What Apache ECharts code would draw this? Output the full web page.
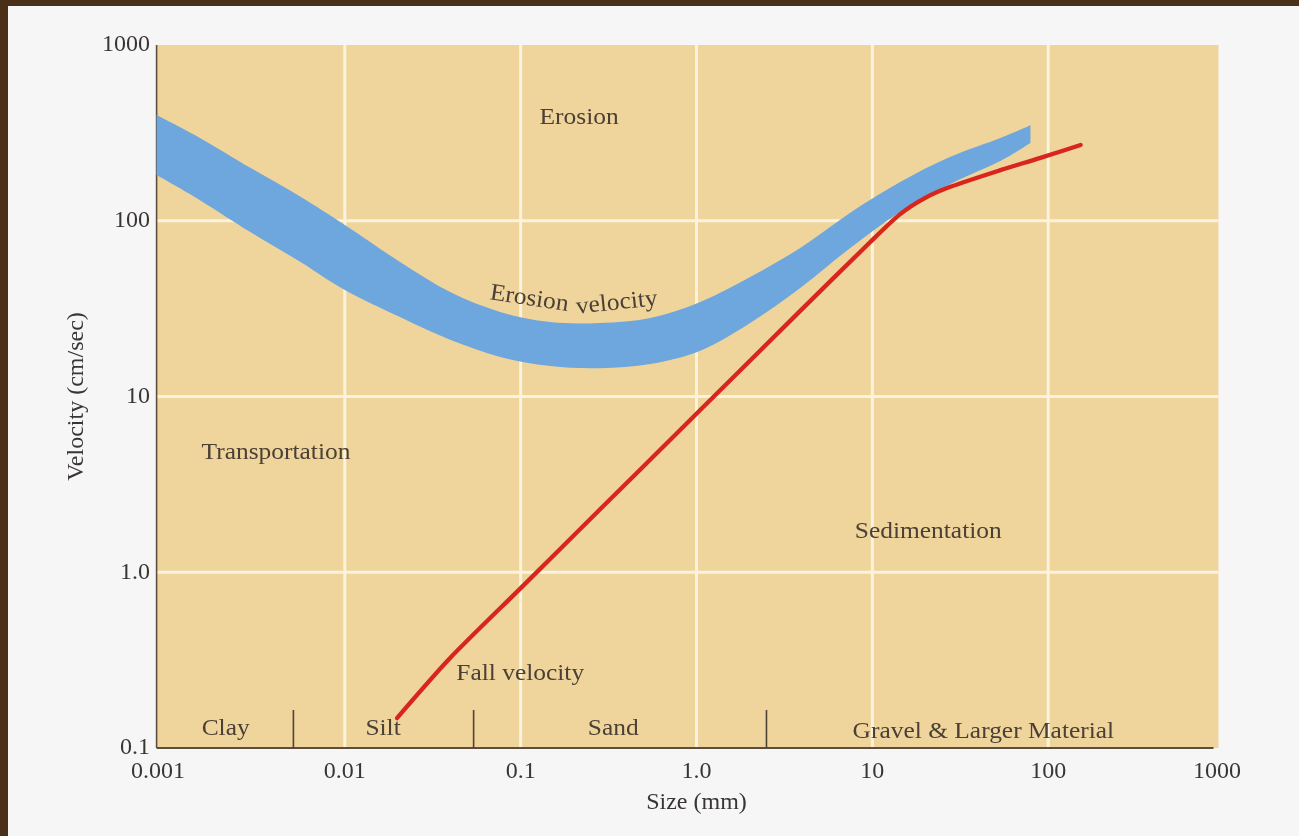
<!DOCTYPE html>
<html>
<head>
<meta charset="utf-8">
<script src="https://cdn.jsdelivr.net/npm/echarts@6/dist/echarts.min.js"></script>
<style>
html, body { margin: 0; padding: 0; background: #f6f6f6; }
#chart { width: 1299px; height: 836px; }
</style>
</head>
<body>
<div id="chart"></div>
<script>
// Hjulström diagram: grain size (mm) against flow velocity (cm/sec), log–log.
const xTickLabels = ['0.001', '0.01', '0.1', '1.0', '10', '100', '1000'];
const yTickLabels = ['0.1', '1.0', '10', '100', '1000'];

// Erosion velocity band: upper and lower limits at each grain size
const bandSize  = [0.00085, 0.0015, 0.0029, 0.0056, 0.01, 0.0206, 0.0397, 0.0764, 0.147, 0.283, 0.546, 1.05, 2.02, 3.89, 7.49, 14.4, 27.8, 53.5, 79.3];
const bandUpper = [400, 296, 200, 137, 94.6, 58.3, 39.3, 30.3, 26.5, 26.2, 28.0, 34.5, 47.9, 70.0, 111, 166, 231, 296, 350];
const bandLower = [182, 131, 86.3, 58.3, 40.4, 28.3, 21.0, 16.8, 14.9, 14.5, 15.3, 18.2, 26.2, 41.4, 70.0, 112, 162, 219, 277];

// Fall (settling) velocity curve
const fallSize     = [0.0198, 0.0397, 0.0994, 0.283, 1.05, 3.89, 9.74, 14.4, 20.0, 27.8, 53.5, 90.3, 153];
const fallVelocity = [0.148, 0.325, 0.807, 2.28, 8.38, 30.7, 75.7, 109, 135, 156, 194, 228, 270];

// Grain-size classes along the bottom of the plot
const classBounds = [0.0051, 0.054, 2.5];
const classNames = ['Clay', 'Silt', 'Sand', 'Gravel & Larger Material'];
const classLabelSize = [0.0021, 0.0165, 0.336, 42.8];
const classLabelVelocity = [0.128, 0.128, 0.128, 0.1233];

// Region names
const regionNames = ['Erosion', 'Transportation', 'Sedimentation', 'Fall velocity'];
const regionSize = [0.215, 0.00406, 20.8, 0.0994];
const regionVelocity = [384, 4.77, 1.69, 0.264];

// Curve caption written along the erosion band
const captionWords = ['Erosion', 'velocity'];
const captionSize = [0.112, 0.352];
const captionVelocity = [35.9, 34.0];
const captionTiltDeg = [-8.5, 6];

// Extent of the shaded plot frame
const frameSize = [0.00085, 930];
const frameVelocity = [0.1, 1000];

const SERIF = '"Liberation Serif", "Times New Roman", serif';
const LABEL_COLOR = '#4b4036';
const TICK_COLOR = '#3a3535';

const xGrid = xTickLabels.slice(1, -1).map(Number);
const yGrid = yTickLabels.slice(1, -1).map(Number);

const chart = echarts.init(document.getElementById('chart'), null, { renderer: 'canvas' });

function textEl(x, y, text, rot) {
  return {
    type: 'text', x: x, y: y, rotation: (rot || 0) * Math.PI / 180,
    scaleX: 1.06,
    style: {
      text: text, fill: LABEL_COLOR, font: '24px ' + SERIF,
      align: 'center', verticalAlign: 'middle'
    }
  };
}

// Catmull-Rom curve through pixel points, as SVG cubic segments
function curveSegments(pts) {
  let d = '';
  for (let i = 0; i < pts.length - 1; i++) {
    const p0 = pts[Math.max(i - 1, 0)], p1 = pts[i], p2 = pts[i + 1], p3 = pts[Math.min(i + 2, pts.length - 1)];
    const c1 = [p1[0] + (p2[0] - p0[0]) / 6, p1[1] + (p2[1] - p0[1]) / 6];
    const c2 = [p2[0] - (p3[0] - p1[0]) / 6, p2[1] - (p3[1] - p1[1]) / 6];
    d += ' C' + c1[0].toFixed(2) + ' ' + c1[1].toFixed(2) + ' ' + c2[0].toFixed(2) + ' ' + c2[1].toFixed(2) + ' ' + p2[0].toFixed(2) + ' ' + p2[1].toFixed(2);
  }
  return d;
}

const option = {
  backgroundColor: '#f6f6f6',
  animation: false,
  graphic: [
    { type: 'rect', shape: { x: 0, y: 0, width: 1299, height: 6 }, style: { fill: '#4a3019' } },
    { type: 'rect', shape: { x: 0, y: 0, width: 8, height: 836 }, style: { fill: '#4a3019' } }
  ],
  grid: { left: 169, right: 75, top: 45, bottom: 88 },
  xAxis: {
    type: 'log', logBase: 10, min: 0.001, max: 1000,
    axisLine: { show: false }, axisTick: { show: false }, splitLine: { show: false },
    axisLabel: {
      margin: 12, color: TICK_COLOR, fontFamily: SERIF, fontSize: 24,
      formatter: function (v) {
        const i = Math.round(Math.log10(v)) + 3;
        if (i === 0) return '{first|' + xTickLabels[i] + '}';
        if (i === xTickLabels.length - 1) return '{last|' + xTickLabels[i] + '}';
        return xTickLabels[i];
      },
      rich: {
        first: { padding: [0, 22, 0, 0], color: TICK_COLOR, fontFamily: SERIF, fontSize: 24 },
        last: { padding: [0, 14, 0, 0], color: TICK_COLOR, fontFamily: SERIF, fontSize: 24 }
      }
    },
    name: 'Size (mm)', nameLocation: 'middle', nameGap: 43,
    nameTextStyle: { color: TICK_COLOR, fontFamily: SERIF, fontSize: 24 }
  },
  yAxis: {
    type: 'log', logBase: 10, min: 0.1, max: 1000, offset: 12,
    axisLine: { show: false }, axisTick: { show: false }, splitLine: { show: false },
    axisLabel: {
      margin: 7, color: TICK_COLOR, fontFamily: SERIF, fontSize: 24,
      formatter: function (v) { return yTickLabels[Math.round(Math.log10(v)) + 1]; }
    },
    name: 'Velocity (cm/sec)', nameLocation: 'middle', nameGap: 68, nameRotate: 90,
    nameTextStyle: { color: TICK_COLOR, fontFamily: SERIF, fontSize: 24 }
  },
  series: [
    {
      // shaded frame, grid lines, axis lines and class dividers
      type: 'custom', name: 'frame', z: 1, silent: true, clip: false,
      data: [[1, 1]],
      renderItem: function (params, api) {
        const tl = api.coord([frameSize[0], frameVelocity[1]]);
        const br = api.coord([frameSize[1], frameVelocity[0]]);
        const kids = [{
          type: 'rect',
          shape: { x: tl[0], y: tl[1], width: br[0] - tl[0], height: br[1] - tl[1] },
          style: { fill: '#efd49b' }
        }];
        xGrid.forEach(function (v) {
          const p = api.coord([v, frameVelocity[0]]);
          kids.push({ type: 'line', shape: { x1: p[0], y1: tl[1], x2: p[0], y2: br[1] },
            style: { stroke: '#fcf3de', lineWidth: 3 } });
        });
        yGrid.forEach(function (v) {
          const p = api.coord([frameSize[0], v]);
          kids.push({ type: 'line', shape: { x1: tl[0], y1: p[1], x2: br[0], y2: p[1] },
            style: { stroke: '#fcf3de', lineWidth: 3 } });
        });
        kids.push({ type: 'line', shape: { x1: tl[0], y1: tl[1], x2: tl[0], y2: br[1] },
          style: { stroke: '#5b4d3f', lineWidth: 1.6 } });
        kids.push({ type: 'line', shape: { x1: tl[0], y1: br[1], x2: br[0] - 5, y2: br[1] },
          style: { stroke: '#5b4d3f', lineWidth: 1.8 } });
        classBounds.forEach(function (v) {
          const p = api.coord([v, frameVelocity[0]]);
          kids.push({ type: 'line', shape: { x1: p[0], y1: p[1] - 38, x2: p[0], y2: p[1] },
            style: { stroke: '#4d4338', lineWidth: 1.6 } });
        });
        return { type: 'group', children: kids };
      }
    },
    {
      // erosion velocity band: smooth upper edge, straight end cut, smooth lower edge back
      type: 'custom', name: 'Erosion velocity', z: 3, silent: true, clip: false,
      data: [[1, 1]],
      renderItem: function (params, api) {
        const up = bandSize.map(function (x, i) { return api.coord([x, bandUpper[i]]); });
        const lo = bandSize.map(function (x, i) { return api.coord([x, bandLower[i]]); }).reverse();
        const d = 'M' + up[0][0] + ' ' + up[0][1] + curveSegments(up) +
          ' L' + lo[0][0] + ' ' + lo[0][1] + curveSegments(lo) + ' Z';
        return { type: 'path', shape: { pathData: d }, style: { fill: '#6ea6de' } };
      }
    },
    {
      type: 'line', name: 'Fall velocity', z: 4, silent: true,
      data: fallSize.map(function (x, i) { return [x, fallVelocity[i]]; }),
      showSymbol: false, smooth: 0.25,
      lineStyle: { color: '#d8261c', width: 4.3, cap: 'round' }
    },
    {
      // text annotations
      type: 'custom', name: 'labels', z: 5, silent: true, clip: false,
      data: [[1, 1]],
      renderItem: function (params, api) {
        const kids = [];
        classNames.forEach(function (t, i) {
          const p = api.coord([classLabelSize[i], classLabelVelocity[i]]);
          kids.push(textEl(p[0], p[1], t, 0));
        });
        regionNames.forEach(function (t, i) {
          const p = api.coord([regionSize[i], regionVelocity[i]]);
          kids.push(textEl(p[0], p[1], t, 0));
        });
        captionWords.forEach(function (t, i) {
          const p = api.coord([captionSize[i], captionVelocity[i]]);
          kids.push(textEl(p[0], p[1], t, captionTiltDeg[i]));
        });
        return { type: 'group', children: kids };
      }
    }
  ]
};

chart.setOption(option);
</script>
</body>
</html>
